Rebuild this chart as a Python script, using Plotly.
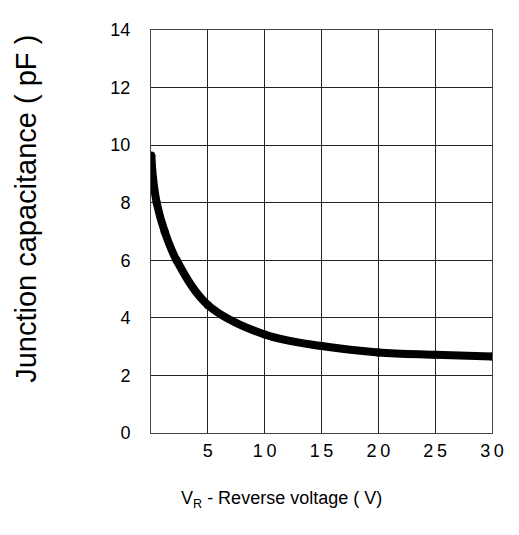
import plotly.graph_objects as go

# Reverse voltage (V) and junction capacitance (pF)
v_r = [0.03, 0.18, 0.5, 1.2, 2.25, 5, 10, 15, 20, 25, 30]
c_j = [9.64, 8.85, 8.0, 7.0, 6.0, 4.45, 3.42, 3.02, 2.8, 2.72, 2.66]

x_ticks = [5, 10, 15, 20, 25, 30]
x_tick_text = ["5", "1\u20090", "1\u20095", "2\u20090", "2\u20095", "3\u20090"]
y_ticks = [0, 2, 4, 6, 8, 10, 12, 14]
y_tick_text = [str(v) for v in y_ticks]

x_title = "V<sub>R</sub> - Reverse voltage ( V)"
y_title = "Junction capacitance ( pF )"

FONT = "Liberation Sans, Arial, sans-serif"

fig = go.Figure()
fig.add_trace(go.Scatter(
    x=v_r, y=c_j, mode="lines+markers",
    line=dict(color="black", width=8, shape="spline", smoothing=1.0),
    marker=dict(color="black", size=8),
    hoverinfo="skip", showlegend=False,
))

# page body adds an 8px offset, so the figure is drawn 8px smaller
fig.update_layout(
    width=511, height=527,
    margin=dict(l=143, r=27, t=14, b=102),
    paper_bgcolor="white", plot_bgcolor="white",
    font=dict(family=FONT, color="black"),
    showlegend=False,
    annotations=[
        dict(text=y_title, xref="paper", yref="paper", x=-0.365, y=0.555,
             xanchor="center", yanchor="middle", textangle=-90, showarrow=False,
             font=dict(family=FONT, size=29, color="black")),
        dict(text=x_title, xref="paper", yref="paper", x=0.383, y=-0.166,
             xanchor="center", yanchor="middle", showarrow=False,
             font=dict(family=FONT, size=18, color="black")),
    ],
)
fig.update_xaxes(
    range=[0, 30], tickvals=x_ticks, ticktext=x_tick_text,
    showgrid=True, gridcolor="#222", gridwidth=1,
    showline=True, linecolor="#444", linewidth=1, mirror=True,
    zeroline=False, ticks="", ticklabelstandoff=1,
    tickfont=dict(family=FONT, size=18, color="black"),
)
fig.update_yaxes(
    range=[0, 14], tickvals=y_ticks, ticktext=y_tick_text,
    showgrid=True, gridcolor="#222", gridwidth=1,
    showline=True, linecolor="#444", linewidth=1, mirror=True,
    zeroline=False, ticks="", ticklabelstandoff=16,
    tickfont=dict(family=FONT, size=18, color="black"),
)

fig.write_html("out.html")
